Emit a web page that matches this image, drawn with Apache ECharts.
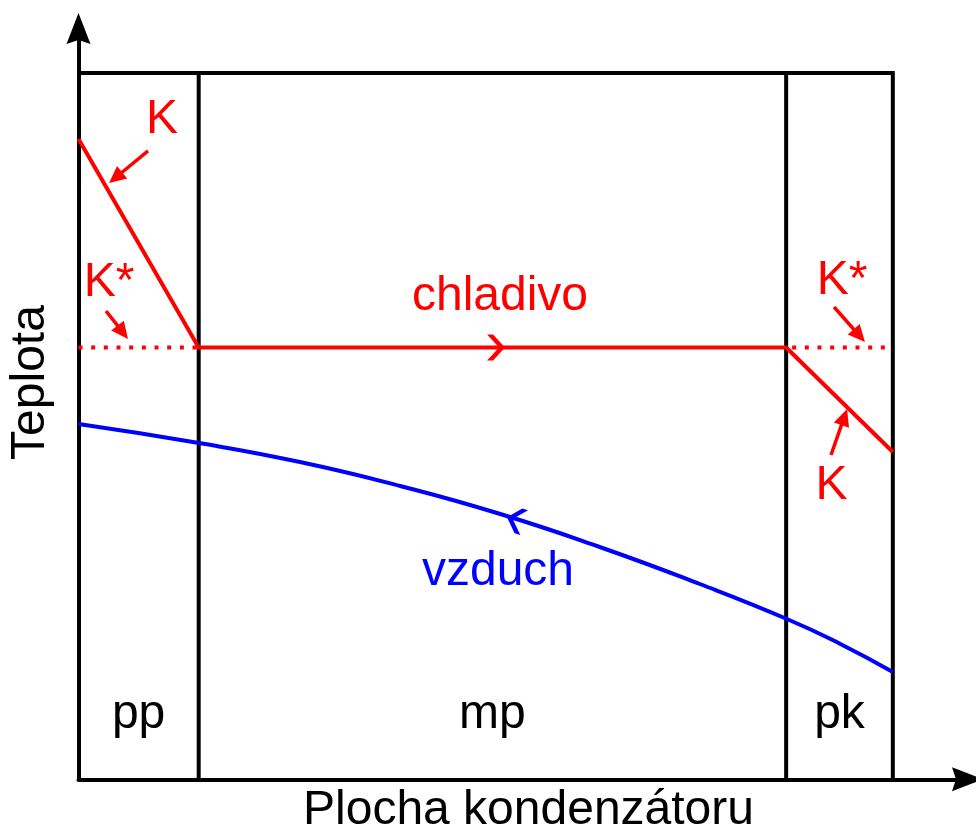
<!DOCTYPE html>
<html>
<head>
<meta charset="utf-8">
<script src="https://cdn.jsdelivr.net/npm/echarts@6/dist/echarts.min.js"></script>
<style>
  html, body { margin: 0; padding: 0; background: #fff; }
  #chart { width: 976px; height: 828px; }
</style>
</head>
<body>
<div id="chart"></div>
<script>
// Zone boundaries along the condenser surface (relative units 0..100)
const zoneBounds = [0, 14.76, 86.9, 100];
const zoneNames = ['pp', 'mp', 'pk'];

// Refrigerant temperature: desuperheating, condensation, subcooling
const refrigerantX = [0, 14.76, 86.9, 100];
const refrigerantT = [90.66, 61.14, 61.14, 46.34];

// Condensing temperature K*
const condensingT = 61.14;

// Air temperature along the surface
const airX = [0, 14.8, 27.2, 39.5, 51.8, 64.0, 76.3, 87.0, 93.5, 100];
const airT = [50.30, 47.61, 44.92, 41.53, 37.56, 32.89, 27.65, 22.70, 19.20, 15.20];

// Pointer arrows next to the K / K* labels: [fromX, fromY, toX, toY]
const pointers = [
  [8.54, 88.96, 3.75, 84.42],
  [3.38, 66.30, 6.08, 62.34],
  [92.78, 66.87, 96.58, 61.92],
  [92.41, 45.92, 94.38, 52.43]
];

// Flow direction marks: [tipX, tipY, backX, backY]
const refrigerantFlow = [[52.38, 61.14, 40.0, 61.14]];
const airFlow = [[52.62, 37.1, 64.0, 33.0]];

const RED = '#ff0000';
const BLUE = '#0000ff';
const BLACK = '#000000';
const FONT = '48px "Liberation Sans", Arial, sans-serif';

const chart = echarts.init(document.getElementById('chart'), null, { renderer: 'canvas' });

const zip = (xs, ys) => xs.map((x, i) => [x, ys[i]]);

function renderPointer(params, api) {
  const p1 = api.coord([api.value(0), api.value(1)]);
  const p2 = api.coord([api.value(2), api.value(3)]);
  let dx = p2[0] - p1[0], dy = p2[1] - p1[1];
  const len = Math.hypot(dx, dy);
  dx /= len; dy /= len;
  const nx = -dy, ny = dx;
  const headLen = 17, headHalf = 8;
  const base = [p2[0] - dx * headLen, p2[1] - dy * headLen];
  return {
    type: 'group',
    children: [
      {
        type: 'line',
        shape: { x1: p1[0], y1: p1[1], x2: base[0] + dx * 2, y2: base[1] + dy * 2 },
        style: { stroke: RED, lineWidth: 3.5 }
      },
      {
        type: 'polygon',
        shape: { points: [p2, [base[0] + nx * headHalf, base[1] + ny * headHalf], [base[0] - nx * headHalf, base[1] - ny * headHalf]] },
        style: { fill: RED }
      }
    ]
  };
}

function chevronRenderer(color) {
  return function (params, api) {
    const tip = api.coord([api.value(0), api.value(1)]);
    const back = api.coord([api.value(2), api.value(3)]);
    let dx = tip[0] - back[0], dy = tip[1] - back[1];
    const len = Math.hypot(dx, dy);
    dx /= len; dy /= len;
    const nx = -dy, ny = dx;
    const pt = (a, b) => [tip[0] + dx * a + nx * b, tip[1] + dy * a + ny * b];
    return {
      type: 'polygon',
      shape: { points: [pt(0, 0), pt(-12, -13), pt(-18, -13), pt(-6, 0), pt(-18, 13), pt(-12, 13)] },
      style: { fill: color }
    };
  };
}

function renderDivider(params, api) {
  const x = api.value(0);
  const a = api.coord([x, 0]);
  const b = api.coord([x, 100]);
  return {
    type: 'line',
    shape: { x1: a[0], y1: a[1], x2: b[0], y2: b[1] },
    style: { stroke: BLACK, lineWidth: 4 }
  };
}

const arrowPath = 'path://M12,0 L24,31 L12,27 L0,31 Z';

function txt(text, x, y, color, rotation) {
  return {
    type: 'text',
    x: x, y: y,
    rotation: rotation || 0,
    style: {
      text: text, x: 0, y: 0, fill: color, font: FONT,
      align: 'center', verticalAlign: 'middle',
      textAlign: 'center', textVerticalAlign: 'middle'
    },
    z: 100
  };
}

const zoneCenters = zoneNames.map((n, i) => (zoneBounds[i] + zoneBounds[i + 1]) / 2);

const option = {
  animation: false,
  backgroundColor: '#ffffff',
  grid: { left: 78.5, top: 28.5, width: 889, height: 750.8, containLabel: false },
  xAxis: {
    type: 'value', min: 0, max: 109.17,
    axisLine: {
      show: true, onZero: false,
      symbol: ['none', arrowPath], symbolSize: [24, 31],
      lineStyle: { color: BLACK, width: 4 }
    },
    axisTick: { show: false }, axisLabel: { show: false }, splitLine: { show: false }
  },
  yAxis: {
    type: 'value', min: 0, max: 106.3,
    axisLine: {
      show: true, onZero: false,
      symbol: ['none', arrowPath], symbolSize: [24, 31],
      lineStyle: { color: BLACK, width: 4 }
    },
    axisTick: { show: false }, axisLabel: { show: false }, splitLine: { show: false }
  },
  graphic: [
    txt('Plocha kondenzátoru', 528.5, 811, BLACK),
    txt('Teplota', 31, 382.5, BLACK, Math.PI / 2),
    txt('K', 162, 119.5, RED),
    txt('K*', 109, 282.5, RED),
    txt('chladivo', 500, 296.5, RED),
    txt('K*', 842, 280.5, RED),
    txt('K', 831.5, 485.5, RED),
    txt('vzduch', 498, 571.5, BLUE)
  ],
  series: [
    {
      name: 'frame', type: 'line', z: 2, symbol: 'none', silent: true,
      data: [[zoneBounds[0], 100], [zoneBounds[3], 100], [zoneBounds[3], 0]],
      lineStyle: { color: BLACK, width: 4, join: 'miter' }
    },
    {
      name: 'dividers', type: 'custom', z: 2, silent: true, clip: false,
      data: zoneBounds.slice(1, 3).map(x => [x]),
      dimensions: ['x'], encode: { x: 0 },
      renderItem: renderDivider
    },
    {
      name: 'zones', type: 'custom', z: 3, silent: true, clip: false,
      data: zoneCenters.map((x, i) => [x, 9.2, zoneNames[i]]),
      dimensions: ['x', 'y', 'name'], encode: { x: 0, y: 1 },
      renderItem: function (params, api) {
        const p = api.coord([api.value(0), api.value(1)]);
        return {
          type: 'text', x: p[0], y: p[1],
          style: { text: zoneNames[params.dataIndex], fill: BLACK, font: FONT, align: 'center', verticalAlign: 'middle' }
        };
      }
    },
    {
      name: 'K* left', type: 'line', z: 4, symbol: 'none', silent: true,
      data: [[zoneBounds[0], condensingT], [zoneBounds[1], condensingT]],
      lineStyle: { color: RED, width: 4, type: [4, 8.67], cap: 'butt' }
    },
    {
      name: 'K* right', type: 'line', z: 4, symbol: 'none', silent: true,
      data: [[zoneBounds[2], condensingT], [zoneBounds[3], condensingT]],
      lineStyle: { color: RED, width: 4, type: [4, 8.67], cap: 'butt', dashOffset: -6 }
    },
    {
      name: 'chladivo', type: 'line', z: 5, symbol: 'none', silent: true,
      data: zip(refrigerantX, refrigerantT),
      lineStyle: { color: RED, width: 4 }
    },
    {
      name: 'vzduch', type: 'line', z: 5, symbol: 'none', silent: true,
      smooth: true,
      data: zip(airX, airT),
      lineStyle: { color: BLUE, width: 4 }
    },
    {
      name: 'pointers', type: 'custom', z: 6, silent: true, clip: false,
      data: pointers, dimensions: ['x1', 'y1', 'x2', 'y2'], encode: { x: [0, 2], y: [1, 3] },
      renderItem: renderPointer
    },
    {
      name: 'refrigerant flow', type: 'custom', z: 6, silent: true, clip: false,
      data: refrigerantFlow, dimensions: ['x1', 'y1', 'x2', 'y2'], encode: { x: [0, 2], y: [1, 3] },
      renderItem: chevronRenderer(RED)
    },
    {
      name: 'air flow', type: 'custom', z: 6, silent: true, clip: false,
      data: airFlow, dimensions: ['x1', 'y1', 'x2', 'y2'], encode: { x: [0, 2], y: [1, 3] },
      renderItem: chevronRenderer(BLUE)
    }
  ]
};

chart.setOption(option);
</script>
</body>
</html>
